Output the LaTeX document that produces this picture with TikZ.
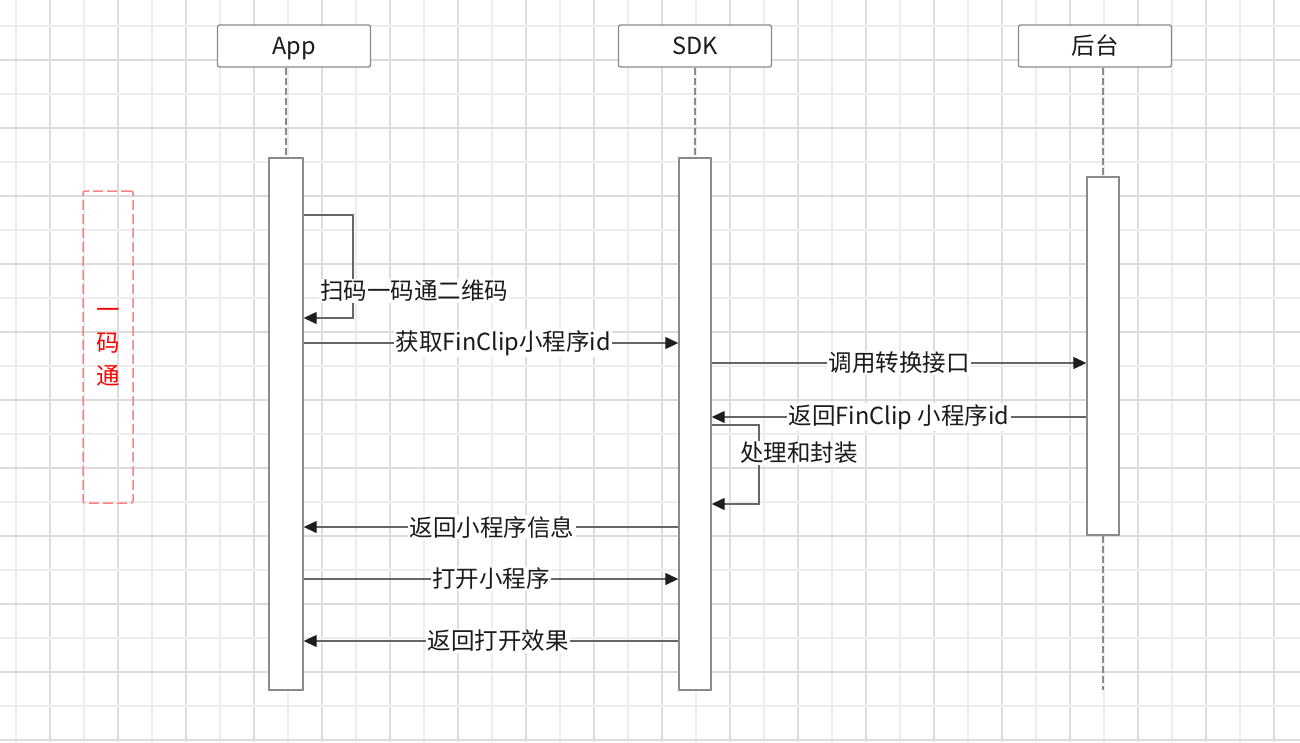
\documentclass[tikz,border=0pt]{standalone}
\usepackage{fontspec}
\setmainfont{Noto Sans CJK SC}
\usetikzlibrary{arrows.meta}

\definecolor{gridmajor}{HTML}{DCDCDC}
\definecolor{gridminor}{HTML}{EDEDED}
\definecolor{boxline}{HTML}{8A8A8A}
\definecolor{msgline}{HTML}{666666}
\definecolor{tipfill}{HTML}{1E1E1E}
\definecolor{txt}{HTML}{1A1A1A}
\definecolor{groupline}{HTML}{FF8080}
\definecolor{grouptxt}{HTML}{FF0000}

\tikzset{
  lbfont/.style={font=\fontsize{23.5pt}{28pt}\selectfont, text=txt},
  headbox/.style={draw=boxline, line width=1.3pt, rounded corners=2pt, fill=white,
    minimum width=153pt, minimum height=42pt, inner sep=0pt,
    text height=17.5pt, text depth=0pt, lbfont},
  actbox/.style={draw=boxline, line width=1.4pt, fill=white, inner sep=0pt},
  lifeline/.style={draw=boxline, line width=1.5pt, dash pattern=on 7pt off 3pt},
  msg/.style={draw=msgline, line width=1.3pt,
    -{Triangle[length=13pt, width=12pt, fill=tipfill, color=tipfill]}},
  lbl/.style={fill=white, inner sep=1.5pt, lbfont},
  groupbox/.style={draw=groupline, line width=1.5pt, dash pattern=on 10pt off 4pt,
    rounded corners=2pt, minimum width=50pt, minimum height=312pt, inner sep=0pt,
    align=center, text=grouptxt, font=\fontsize{23.5pt}{33pt}\selectfont}
}

\begin{document}
\begin{tikzpicture}[x=1pt, y=-1pt]
  \useasboundingbox (0,0) rectangle (1300,742);
  \fill[white] (0,0) rectangle (1300,742);

  % background grid, alternating light and darker lines
  \foreach \k in {0,...,38} {
    \pgfmathtruncatemacro{\odd}{mod(\k,2)}
    \ifnum\odd=0
      \draw[gridminor, line width=1.2pt] (16+34*\k,0) -- (16+34*\k,742);
    \else
      \draw[gridmajor, line width=1.2pt] (16+34*\k,0) -- (16+34*\k,742);
    \fi
  }
  \foreach \k in {0,...,21} {
    \pgfmathtruncatemacro{\odd}{mod(\k,2)}
    \ifnum\odd=0
      \draw[gridminor, line width=1.2pt] (0,26+34*\k) -- (1300,26+34*\k);
    \else
      \draw[gridmajor, line width=1.2pt] (0,26+34*\k) -- (1300,26+34*\k);
    \fi
  }

  % participants
  \node[headbox] (apphead) at (294,46) {App};
  \node[headbox] (sdkhead) at (695,46) {SDK};
  \node[headbox] (srvhead) at (1095,46) {后台};

  % activation bars
  \node[actbox, minimum width=34pt, minimum height=532pt] (appact) at (286,424) {};
  \node[actbox, minimum width=32pt, minimum height=532pt] (sdkact) at (695,424) {};
  \node[actbox, minimum width=32pt, minimum height=358pt] (srvact) at (1103,356) {};
  \coordinate (srvend) at (1103,690);

  % lifelines
  \draw[lifeline] (appact.north |- apphead.south) -- (appact.north);
  \draw[lifeline] (sdkact.north |- sdkhead.south) -- (sdkact.north);
  \draw[lifeline] (srvact.north |- srvhead.south) -- (srvact.north);
  \draw[lifeline] (srvact.south) -- (srvend);

  % group frame
  \node[groupbox] (yimatong) at (108,347) {一\\码\\通};

  % message rows
  \coordinate (r1a) at (0,215);
  \coordinate (r1b) at (0,318);
  \coordinate (r2) at (0,343);
  \coordinate (r3) at (0,363);
  \coordinate (r4) at (0,417);
  \coordinate (r5a) at (0,425);
  \coordinate (r5b) at (0,504);
  \coordinate (r6) at (0,527);
  \coordinate (r7) at (0,579);
  \coordinate (r8) at (0,641);
  \coordinate (loop1) at (353,0);
  \coordinate (loop5) at (759,0);

  % App scans the code
  \draw[msg] (appact.east |- r1a) -- (loop1 |- r1a) -- (loop1 |- r1b) -- (appact.east |- r1b);
  \node[lbl] (scan) at (414,291) {扫码一码通二维码};

  \draw[msg] (appact.east |- r2) -- (sdkact.west |- r2)
    node[lbl, pos=0.533] (getid) {获取FinClip小程序id};
  \draw[msg] (sdkact.east |- r3) -- (srvact.west |- r3)
    node[lbl, pos=0.5] (convert) {调用转换接口};
  \draw[msg] (srvact.west |- r4) -- (sdkact.east |- r4)
    node[lbl, pos=0.5] (retid) {返回FinClip 小程序id};

  % SDK processes the result
  \draw[msg] (sdkact.east |- r5a) -- (loop5 |- r5a) -- (loop5 |- r5b) -- (sdkact.east |- r5b);
  \node[lbl] (process) at (799,453) {处理和封装};

  \draw[msg] (sdkact.west |- r6) -- (appact.east |- r6)
    node[lbl, pos=0.497] (retinfo) {返回小程序信息};
  \draw[msg] (appact.east |- r7) -- (sdkact.west |- r7)
    node[lbl, pos=0.5] (open) {打开小程序};
  \draw[msg] (sdkact.west |- r8) -- (appact.east |- r8)
    node[lbl, pos=0.481] (retopen) {返回打开效果};
\end{tikzpicture}
\end{document}
